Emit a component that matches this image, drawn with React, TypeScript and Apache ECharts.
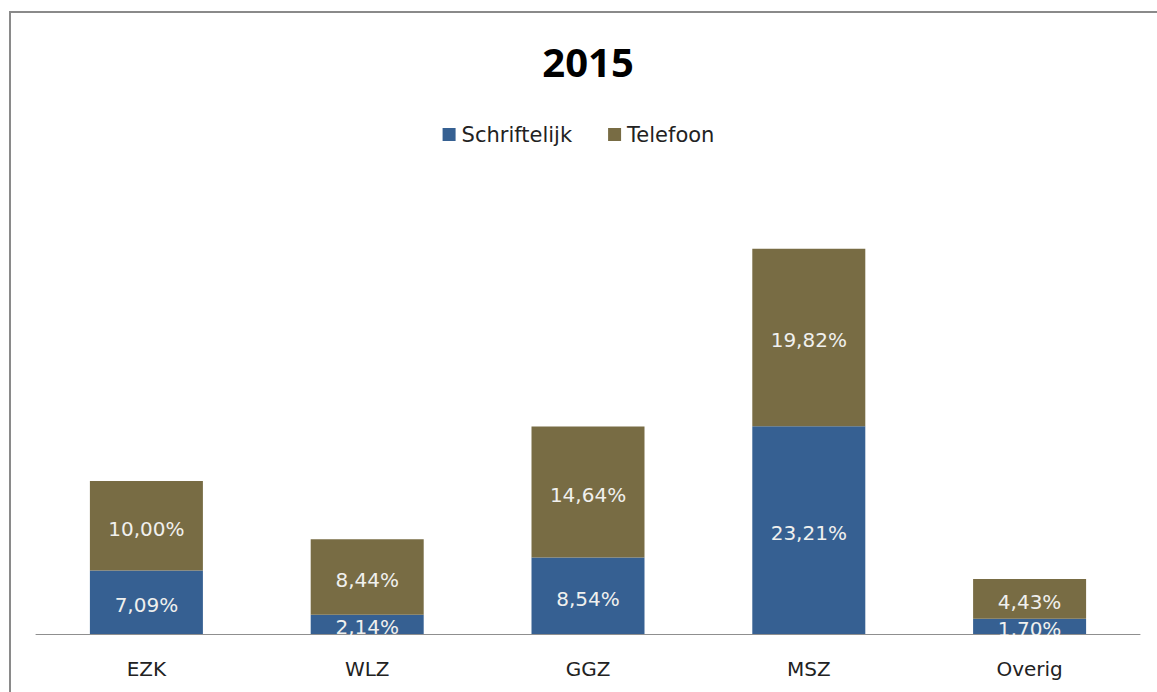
import React, { useEffect, useRef } from "react";
import * as echarts from "echarts";

const categories = ["EZK", "WLZ", "GGZ", "MSZ", "Overig"];
const schriftelijk = [7.09, 2.14, 8.54, 23.21, 1.7];
const telefoon = [10.0, 8.44, 14.64, 19.82, 4.43];
const seriesNames = ["Schriftelijk", "Telefoon"];
const titleText = "2015";

const fmt = (v: number) => v.toFixed(2).replace(".", ",") + "%";

export default function App() {
  const ref = useRef<HTMLDivElement>(null);
  useEffect(() => {
    if (!ref.current) return;
    const chart = echarts.init(ref.current, null, { renderer: "svg" });
    const labelStyle = {
      show: true,
      position: "inside",
      color: "#f0f0ee",
      fontFamily: "DejaVu Sans",
      fontSize: 20,
      offset: [0, 3],
      formatter: (p: any) => fmt(p.value),
    };
    chart.setOption({
      animation: false,
      backgroundColor: "#ffffff",
      grid: { left: 36, right: 17, top: 231, bottom: 58, containLabel: false },
      legend: {
        data: seriesNames,
        top: 119,
        left: "center",
        icon: "rect",
        itemWidth: 13,
        itemHeight: 13,
        itemGap: 36,
        textStyle: { fontFamily: "DejaVu Sans", fontSize: 21, color: "#222", padding: [0, 0, 0, 1] },
      },
      xAxis: {
        type: "category",
        data: categories,
        axisTick: { show: false },
        axisLine: { lineStyle: { color: "#8f8f8f", width: 1 } },
        axisLabel: { fontFamily: "DejaVu Sans", fontSize: 20, color: "#222", margin: 25 },
      },
      yAxis: { type: "value", min: 0, max: 45, show: false, splitLine: { show: false } },
      series: [
        {
          name: seriesNames[0],
          type: "bar",
          stack: "total",
          barWidth: 113,
          data: schriftelijk,
          itemStyle: { color: "#366092" },
          label: labelStyle,
        },
        {
          name: seriesNames[1],
          type: "bar",
          stack: "total",
          barWidth: 113,
          data: telefoon,
          itemStyle: { color: "#786c44" },
          label: labelStyle,
        },
      ],
      graphic: [
        {
          type: "rect",
          z: 100,
          shape: { x: 30, y: 635, width: 1120, height: 12 },
          style: { fill: "#ffffff" },
        },
        {
          type: "polyline",
          z: 100,
          shape: { points: [[10, 692], [10, 12], [1157, 12]] },
          style: { stroke: "#8a8a8a", lineWidth: 2, fill: "none" },
        },
        {
          type: "text",
          z: 100,
          x: 588,
          y: 61,
          style: {
            text: titleText,
            fontFamily: "Open Sans",
            fontWeight: "bold",
            fontSize: 40,
            fill: "#000",
            align: "center",
            verticalAlign: "middle",
          },
        },
      ],
    });
    return () => chart.dispose();
  }, []);
  return (
    <div
      ref={ref}
      style={{ position: "absolute", left: 0, top: 0, width: 1157, height: 692, background: "#fff" }}
    />
  );
}
